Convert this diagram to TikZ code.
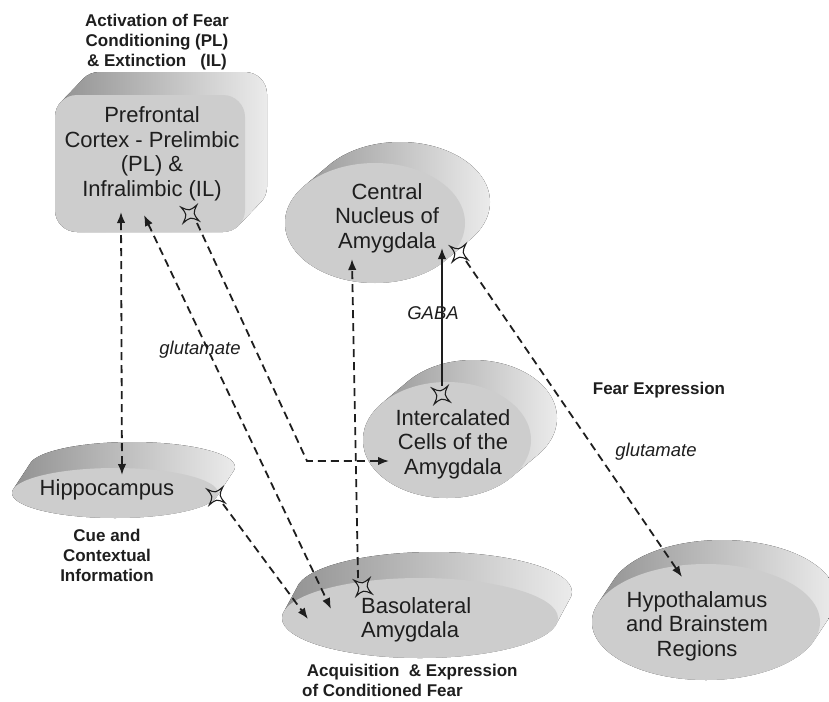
\documentclass[tikz,border=0pt]{standalone}
\usepackage{fontspec}
\setmainfont{Liberation Sans}
\usetikzlibrary{arrows.meta}
\definecolor{face}{RGB}{205,205,205}
\definecolor{sidedark}{RGB}{145,145,145}
\definecolor{sidelight}{RGB}{235,235,235}
\definecolor{ink}{RGB}{30,30,30}
\tikzset{
  region/.style={align=center, inner sep=0pt, text=ink, font=\fontsize{22}{24.5}\selectfont},
  note/.style={align=center, inner sep=0pt, text=ink, font=\bfseries\fontsize{17}{20}\selectfont},
  trans/.style={inner sep=0pt, text=ink, font=\itshape\fontsize{18.5}{20}\selectfont},
  tip/.style={-{Latex[length=11pt,width=8.5pt]}},
  dlink/.style={draw=ink, line width=1.8pt, dash pattern=on 8pt off 5pt, tip},
  dlinkboth/.style={draw=ink, line width=1.8pt, dash pattern=on 8pt off 5pt,
     {Latex[length=11pt,width=8.5pt]}-{Latex[length=11pt,width=8.5pt]}},
  slink/.style={draw=ink, line width=1.8pt, tip},
  syn/.pic={\draw[ink, line width=1.1pt, rotate=8]
     (-8,-8) .. controls (0,-3) .. (8,-8) .. controls (3,0) .. (8,8)
     .. controls (0,3) .. (-8,8) .. controls (-3,0) .. (-8,-8) -- cycle;}
}
\newcommand\mydisc[6]{%
  \fill[left color=sidedark, right color=sidelight]
    \foreach \t in {0,...,20} { ({#1+#5*\t/20},{#2+#6*\t/20}) ellipse [x radius=#3pt, y radius=#4pt] };
  \fill[face] (#1,#2) ellipse [x radius=#3pt, y radius=#4pt];
}
\begin{document}
\begin{tikzpicture}[x=1pt,y=-1pt]
\useasboundingbox (0,0) rectangle (829,701);

% ---- prefrontal box ----
\fill[left color=sidedark, right color=sidelight, rounded corners=22pt]
  \foreach \t in {0,...,20} { ({55+22*\t/20},{95-23*\t/20}) rectangle ++(190,137) };
\fill[face, rounded corners=22pt] (55,95) rectangle ++(190,137);

% ---- discs ----
\mydisc{375}{223}{90}{60}{25}{-21}
\mydisc{447}{440}{84}{58}{26}{-22}
\mydisc{115}{493}{103}{25}{17}{-26}
\mydisc{420}{618}{138}{40}{14}{-26}
\mydisc{706}{622}{114}{58}{16}{-24}

% ---- region texts ----
\node[region] (pfc) at (152,154) {Prefrontal\\Cortex - Prelimbic\\(PL) \&\\Infralimbic (IL)};
\node[region] (cea) at (387,218) {Central\\Nucleus of\\Amygdala};
\node[region] (itc) at (453,444) {Intercalated\\Cells of the\\Amygdala};
\node[region] (hip) at (107,490) {Hippocampus};
\node[region, align=left, anchor=west] (bla) at (361,620) {Basolateral\\Amygdala};
\node[region] (hyp) at (697,626) {Hypothalamus\\and Brainstem\\Regions};

% ---- notes ----
\node[note] (npfc) at (157,42) {Activation of Fear\\Conditioning (PL)\\\& Extinction~~~(IL)};
\node[note] (nhip) at (107,555) {Cue and\\Contextual\\Information};
\node[note] (nfear) at (659,390) {Fear Expression};
\node[note, align=left, anchor=north west] (nbla) at (302,664) {~Acquisition~~\& Expression\\of Conditioned Fear};

\node[trans] (glu1) at (200,350) {glutamate};
\node[trans] (glu2) at (656,452) {glutamate};
\node[trans] (gaba) at (433,313) {GABA};

% ---- synapse stars ----
\pic (spfc) at (190,214) {syn};
\pic (scea) at (459,253) {syn};
\pic (sitc) at (441,395) {syn};
\pic (ship) at (216,496) {syn};
\pic (sbla) at (363,587) {syn};

% ---- connector ends ----
\coordinate (pfcA) at (121,212);
\coordinate (hipA) at (122,475);
\coordinate (pfcB) at (144,215);
\coordinate (blaB) at (331,609);
\coordinate (pfcSo) at (197,223);
\coordinate (turn) at (307,461);
\coordinate (itcA) at (389,461);
\coordinate (hipSo) at (223,504);
\coordinate (blaD) at (308,619);
\coordinate (blaSo) at (358,578);
\coordinate (ceaE) at (352,259);
\coordinate (itcSo) at (442,386);
\coordinate (ceaF) at (442,248);
\coordinate (ceaSo) at (466,261);
\coordinate (hypG) at (682,577);

% ---- connectors ----
\draw[dlinkboth] (pfcA) -- (hipA);
\draw[dlinkboth] (pfcB) -- (blaB);
\draw[dlink] (pfcSo) -- (turn) -- (itcA);
\draw[dlink] (hipSo) -- (blaD);
\draw[dlink] (blaSo) -- (ceaE);
\draw[slink] (itcSo) -- (ceaF);
\draw[dlink] (ceaSo) -- (hypG);
\end{tikzpicture}
\end{document}
